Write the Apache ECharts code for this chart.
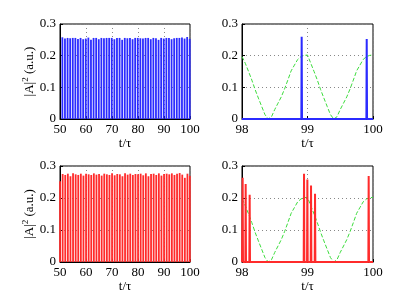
<!DOCTYPE html>
<html><head><meta charset="utf-8">
<script src="https://cdn.jsdelivr.net/npm/echarts@6/dist/echarts.min.js"></script>
<style>html,body{margin:0;padding:0;background:#fff}#c{width:415px;height:302px}</style>
</head><body><div id="c"></div>
<script>
// ---- data ----
const yTicks = [0, 0.1, 0.2, 0.3];
const leftXTicks = [50, 60, 70, 80, 90, 100];
const rightXTicks = [98, 99, 100];

// top-left: pulse peaks (blue)
const blueT = [50.91,51.91,52.91,53.91,54.91,55.91,56.91,57.91,58.91,59.91,
  60.91,61.91,62.91,63.91,64.91,65.91,66.91,67.91,68.91,69.91,
  70.91,71.91,72.91,73.91,74.91,75.91,76.91,77.91,78.91,79.91,
  80.91,81.91,82.91,83.91,84.91,85.91,86.91,87.91,88.91,89.91,
  90.91,91.91,92.91,93.91,94.91,95.91,96.91,97.91,98.91,99.90];
const blueAmp = [0.258,0.254,0.256,0.255,0.256,0.256,0.253,0.256,0.252,0.254,
  0.257,0.250,0.256,0.256,0.252,0.256,0.255,0.256,0.256,0.256,
  0.252,0.256,0.256,0.250,0.256,0.255,0.256,0.252,0.256,0.256,
  0.255,0.254,0.256,0.256,0.252,0.256,0.255,0.250,0.256,0.254,
  0.256,0.256,0.252,0.255,0.256,0.256,0.257,0.254,0.259,0.253];

// bottom-left: pulse-cluster peaks (red)
const redT = [50.02,51.02,52.02,53.02,54.02,55.02,56.02,57.02,58.02,59.02,
  60.02,61.02,62.02,63.02,64.02,65.02,66.02,67.02,68.02,69.02,
  70.02,71.02,72.02,73.02,74.02,75.02,76.02,77.02,78.02,79.02,
  80.02,81.02,82.02,83.02,84.02,85.02,86.02,87.02,88.02,89.02,
  90.02,91.02,92.02,93.02,94.02,95.02,96.02,97.02,98.02,99.02,99.94];
const redAmp = [0.252,0.275,0.272,0.276,0.268,0.277,0.274,0.272,0.276,0.270,
  0.276,0.274,0.272,0.277,0.273,0.275,0.270,0.276,0.274,0.272,
  0.277,0.271,0.275,0.274,0.268,0.277,0.273,0.276,0.272,0.275,
  0.274,0.276,0.271,0.277,0.268,0.275,0.276,0.272,0.277,0.270,
  0.275,0.276,0.274,0.277,0.272,0.276,0.278,0.273,0.263,0.276,0.269];

// top-right: zoomed time series (blue)
const blueZoomT   = [98, 98.906, 98.911, 98.916, 99.899, 99.904, 99.909, 100];
const blueZoomAmp = [0,  0,      0.260,  0,      0,      0.253,  0,      0];

// bottom-right: zoomed time series (red)
const redZoomT   = [98, 98.005,98.01,98.015, 98.051,98.056,98.061, 98.112,98.117,98.122,
  98.942,98.947,98.952, 98.993,98.998,99.003, 99.049,99.054,99.059, 99.110,99.115,99.120,
  99.929,99.934,99.939, 100];
const redZoomAmp = [0, 0,0.263,0, 0,0.244,0, 0,0.210,0,
  0,0.276,0, 0,0.258,0, 0,0.239,0, 0,0.213,0,
  0,0.269,0, 0];

// dashed green reference curve (right panels)
const greenT = [98.0,98.05,98.1,98.15,98.2,98.25,98.3,98.35,98.4,98.45,98.5,98.55,
  98.6,98.65,98.7,98.75,98.8,98.85,98.9,98.95,99.0,
  99.05,99.1,99.15,99.2,99.25,99.3,99.35,99.4,99.45,99.5,99.55,
  99.6,99.65,99.7,99.75,99.8,99.85,99.9,99.95,100.0];
const greenAmp = [0.197,0.176,0.150,0.123,0.093,0.066,0.040,0.014,0.0,0.007,0.030,0.050,
  0.070,0.095,0.123,0.152,0.170,0.188,0.197,0.201,0.202,
  0.176,0.150,0.123,0.093,0.066,0.040,0.014,0.0,0.007,0.030,0.050,
  0.070,0.095,0.123,0.152,0.170,0.188,0.197,0.201,0.202];

// ---- chart ----
const zip = (a, b) => a.map((v, i) => [v, b[i]]);
const FONT = 'Liberation Serif';
const BLUE = '#2b2bff', RED = '#ff2b2b', GREEN = '#3ddc3d';
const FS = 13;

const grids = [
  {left: 60, top: 24, width: 130, height: 95},
  {left: 242, top: 24, width: 131, height: 95},
  {left: 60, top: 166, width: 130, height: 96},
  {left: 242, top: 166, width: 131, height: 96}
].map(g => Object.assign(g, {show: true, borderColor: '#000', borderWidth: 1, containLabel: false}));

function xAx(i, ticks) {
  return {
    gridIndex: i, type: 'value', min: ticks[0], max: ticks[ticks.length - 1],
    interval: ticks[1] - ticks[0],
    name: 't/τ', nameLocation: 'middle', nameGap: 18,
    nameTextStyle: {fontFamily: FONT, fontSize: FS, color: '#000'},
    axisLine: {lineStyle: {color: '#000'}},
    axisTick: {inside: true, length: 3, lineStyle: {color: '#000'}},
    axisLabel: {fontFamily: FONT, fontSize: FS, color: '#000', margin: 4},
    splitLine: {show: true, lineStyle: {type: [1, 3], color: '#888'}}
  };
}
function yAx(i, withName) {
  const a = {
    gridIndex: i, type: 'value', min: yTicks[0], max: yTicks[yTicks.length - 1], interval: 0.1,
    axisLine: {lineStyle: {color: '#000'}},
    axisTick: {inside: true, length: 3, lineStyle: {color: '#000'}},
    axisLabel: {fontFamily: FONT, fontSize: FS, color: '#000', margin: 4,
      formatter: v => (v === 0 ? '0' : v.toFixed(1))},
    splitLine: {show: true, lineStyle: {type: [1, 3], color: '#888'}}
  };
  if (withName) {
    a.name = '|A|{s|2} (a.u.)';
    a.nameLocation = 'middle';
    a.nameGap = 19;
    a.nameTextStyle = {fontFamily: FONT, fontSize: FS, color: '#000',
      rich: {s: {fontFamily: FONT, fontSize: 9, color: '#000', padding: [0, 0, 7, 0]}}};
  }
  return a;
}

const option = {
  animation: false,
  grid: grids,
  xAxis: [xAx(0, leftXTicks), xAx(1, rightXTicks), xAx(2, leftXTicks), xAx(3, rightXTicks)],
  yAxis: [yAx(0, true), yAx(1, false), yAx(2, true), yAx(3, false)],
  series: [
    {type: 'bar', xAxisIndex: 0, yAxisIndex: 0, barWidth: 1.8, data: zip(blueT, blueAmp),
      itemStyle: {color: BLUE}},
    {type: 'line', xAxisIndex: 1, yAxisIndex: 1, data: zip(greenT, greenAmp), symbol: 'none',
      lineStyle: {color: GREEN, width: 1, type: [4, 2]}},
    {type: 'line', xAxisIndex: 1, yAxisIndex: 1, data: zip(blueZoomT, blueZoomAmp), symbol: 'none',
      lineStyle: {color: BLUE, width: 2}},
    {type: 'bar', xAxisIndex: 2, yAxisIndex: 2, barWidth: 1.8, data: zip(redT, redAmp),
      itemStyle: {color: RED}},
    {type: 'line', xAxisIndex: 3, yAxisIndex: 3, data: zip(greenT, greenAmp), symbol: 'none',
      lineStyle: {color: GREEN, width: 1, type: [4, 2]}},
    {type: 'line', xAxisIndex: 3, yAxisIndex: 3, data: zip(redZoomT, redZoomAmp), symbol: 'none',
      lineStyle: {color: RED, width: 2}}
  ]
};
echarts.init(document.getElementById('c'), null, {renderer: 'canvas'}).setOption(option);
</script></body></html>
